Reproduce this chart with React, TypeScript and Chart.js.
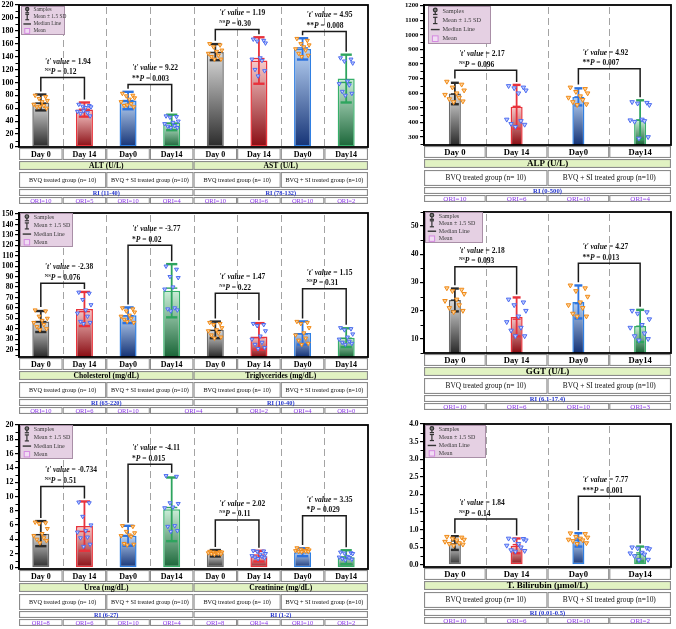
import React, { useEffect, useRef } from "react";
import { Chart, registerables } from "chart.js";

Chart.register(...registerables);

const SERIF = "'Liberation Serif', 'Times New Roman', Times, serif";

// ---------- shared labels ----------
const dayLabels = ["Day 0", "Day 14", "Day0", "Day14"];
const groupLabels = ["BVQ treated group (n= 10)", "BVQ + SI treated group (n=10)"];
const legendLabels = ["Samples", "Mean ± 1.5 SD", "Median Line", "Mean"];

// ---------- ALT (U/L) ----------
const altMean = [69, 58, 72, 38];
const altSd = [8.2, 7.3, 9, 8];
const altMedian = [68, 58.5, 72, 37];
const altSamples = [
  [80, 78, 75, 72, 70, 66, 64, 62, 60, 63],
  [66, 64, 63, 62, 61, 55, 53, 52, 48, 56],
  [83, 80, 79, 76, 74, 70, 67, 64, 62, 65],
  [48, 47, 46, 40, 38, 36, 33, 32, 30, 30],
];
const altT = ["1.94", "9.22"];
const altSig = ["NS", "**"];
const altP = ["0.12", "0.003"];
const altBracket = [107.5, 97];
const altOri = [10, 5, 10, 4];

// ---------- AST (U/L) ----------
const astMean = [147, 134, 152, 106];
const astSd = [8.3, 24, 11, 24.7];
const astMedian = [146.5, 137, 153.5, 100];
const astSamples = [
  [160, 158, 155, 150, 148, 145, 142, 140, 136, 136],
  [167, 165, 164, 161, 138, 136, 134, 120, 118, 110],
  [168, 165, 160, 158, 155, 152, 150, 145, 142, 140],
  [138, 136, 133, 130, 102, 98, 96, 86, 83, 80],
];
const astT = ["1.19", "4.95"];
const astSig = ["NS", "**"];
const astP = ["0.30", "0.008"];
const astBracket = [182, 179];
const astOri = [10, 6, 10, 2];

// ---------- ALP (U/L) ----------
const alpMean = [598, 507, 575, 418];
const alpSd = [49, 100, 39, 89];
const alpMedian = [595, 510, 575, 417.5];
const alpSamples = [
  [680, 660, 640, 620, 600, 590, 570, 560, 545, 540],
  [650, 640, 635, 620, 600, 420, 410, 390, 385, 370],
  [640, 630, 610, 600, 580, 570, 555, 540, 525, 520],
  [540, 535, 530, 520, 420, 415, 410, 405, 300, 290],
];
const alpT = ["2.17", "4.92"];
const alpSig = ["NS", "**"];
const alpP = ["0.096", "0.007"];
const alpBracket = [757, 768];
const alpOri = [10, 6, 10, 4];

// ---------- Cholesterol (mg/dL) ----------
const cholMean = [47, 59, 53, 76.5];
const cholSd = [6.7, 10.9, 5, 17];
const cholMedian = [47, 56.5, 52.5, 79];
const cholSamples = [
  [58, 57, 52, 50, 48, 46, 44, 42, 40, 39],
  [75, 74, 68, 63, 58, 55, 52, 47, 46, 45],
  [60, 59, 57, 56, 53, 52, 50, 49, 46, 47],
  [100, 97, 90, 89, 80, 78, 60, 59, 58, 57],
];
const cholT = ["-2.38", "-3.77"];
const cholSig = ["NS", "*"];
const cholP = ["0.076", "0.02"];
const cholBracket = [83.7, 120];
const cholOri = [10, 6, 10, 4];

// ---------- Triglycerides (mg/dL) ----------
const trigMean = [39, 32.7, 36, 31.5];
const trigSd = [5.3, 8.5, 7.4, 6];
const trigMedian = [38.5, 31.5, 35, 31];
const trigSamples = [
  [46, 45, 44, 41, 39, 38, 36, 34, 32, 31],
  [45, 44, 43, 38, 33, 30, 27, 25, 22, 21],
  [47, 46, 45, 41, 36, 34, 31, 29, 26, 25],
  [41, 40, 39, 35, 32, 30, 28, 27, 26, 25],
];
const trigT = ["1.47", "1.15"];
const trigSig = ["NS", "NS"];
const trigP = ["0.22", "0.31"];
const trigBracket = [74, 78.3];
const trigOri = [2, 4, 0];

// ---------- GGT (U/L) ----------
const ggtMean = [23.8, 17.8, 23.1, 14.6];
const ggtSd = [2.7, 4.6, 3.9, 3.8];
const ggtMedian = [23.75, 17, 22.5, 14.5];
const ggtSamples = [
  [28, 27.5, 27, 26, 24, 23.5, 22, 21, 20, 19.5],
  [24, 23, 22, 20, 18, 16, 14, 13, 11, 11],
  [29, 28, 27, 25, 23, 22, 21, 19, 18, 18],
  [20, 19.5, 19, 17, 15, 14, 12, 11, 10, 9.5],
];
const ggtT = ["2.18", "4.27"];
const ggtSig = ["NS", "**"];
const ggtP = ["0.093", "0.013"];
const ggtBracket = [35.6, 36.8];
const ggtOri = [10, 6, 10, 3];

// ---------- Urea (mg/dL) ----------
const ureaMean = [4.8, 5.85, 4.5, 8.2];
const ureaSd = [1.17, 2.3, 0.93, 2.97];
const ureaMedian = [4.65, 5.1, 4.55, 8.45];
const ureaSamples = [
  [6.4, 6.3, 6.2, 5.5, 4.8, 4.5, 4.2, 4.0, 3.8, 3.5],
  [9.2, 9.1, 7.2, 6.0, 5.2, 5.0, 4.3, 4.2, 3.3, 3.0],
  [5.9, 5.8, 5.1, 4.9, 4.6, 4.5, 4.4, 3.4, 3.3, 3.2],
  [12.9, 12.8, 9.1, 9.0, 8.5, 8.4, 5.9, 5.8, 5.2, 5.1],
];
const ureaT = ["-0.734", "-4.11"];
const ureaSig = ["NS", "*"];
const ureaP = ["0.51", "0.015"];
const ureaBracket = [11.4, 14.5];
const ureaOri = [8, 6, 10, 4];

// ---------- Creatinine (mg/dL) ----------
const creatMean = [2.05, 1.65, 2.2, 1.5];
const creatSd = [0.3, 0.5, 0.37, 0.65];
const creatMedian = [2.125, 1.8, 2.425, 1.55];
const creatSamples = [
  [2.3, 2.25, 2.2, 2.2, 2.15, 2.1, 2.05, 2.0, 1.95, 1.9],
  [2.4, 2.35, 2.3, 2.0, 1.9, 1.7, 1.6, 1.5, 1.4, 1.3],
  [2.8, 2.7, 2.6, 2.5, 2.45, 2.4, 2.35, 2.3, 2.3, 2.25],
  [2.2, 2.1, 2.05, 2.0, 1.6, 1.5, 1.4, 1.3, 1.2, 1.1],
];
const creatT = ["2.02", "3.35"];
const creatSig = ["NS", "*"];
const creatP = ["0.11", "0.029"];
const creatBracket = [6.7, 7.3];
const creatOri = [8, 4, 10, 2];

// ---------- T. Bilirubin (µmol/L) ----------
const biliMean = [0.62, 0.54, 0.71, 0.31];
const biliSd = [0.13, 0.14, 0.127, 0.14];
const biliMedian = [0.68, 0.575, 0.735, 0.34];
const biliSamples = [
  [0.8, 0.78, 0.75, 0.72, 0.7, 0.66, 0.62, 0.6, 0.58, 0.55],
  [0.75, 0.74, 0.72, 0.7, 0.6, 0.55, 0.5, 0.42, 0.4, 0.38],
  [0.9, 0.88, 0.8, 0.78, 0.75, 0.72, 0.7, 0.68, 0.62, 0.6],
  [0.5, 0.48, 0.47, 0.45, 0.35, 0.33, 0.3, 0.25, 0.15, 0.14],
];
const biliT = ["1.84", "7.77"];
const biliSig = ["NS", "***"];
const biliP = ["0.14", "0.001"];
const biliBracket = [1.3, 1.95];
const biliOri = [10, 6, 10, 2];

// ---------- y-axis tick labels ----------
const altAstTicks = [0, 20, 40, 60, 80, 100, 120, 140, 160, 180, 200, 220];
const alpTicks = [300, 400, 500, 600, 700, 800, 900, 1000, 1100, 1200];
const cholTrigTicks = [20, 30, 40, 50, 60, 70, 80, 90, 100, 110, 120, 130, 140, 150];
const ggtTicks = [10, 20, 30, 40, 50];
const ureaCreatTicks = [0, 2, 4, 6, 8, 10, 12, 14, 16, 18, 20];
const biliTicks = [0, 0.5, 1.0, 1.5, 2.0, 2.5, 3.0, 3.5, 4.0];

// ---------- styling ----------
const JITTER = [-0.13, 0.11, -0.04, 0.15, 0.03, -0.16, 0.07, -0.09, 0.13, -0.02];
const BAR_TOP = ["#dcdcdc", "#f8caca", "#b9d3f5", "#cbeed8"];
const BAR_BOTTOM = ["#2a2a2a", "#8a0c12", "#143275", "#196537"];
const BAR_EDGE = ["#6b6b6b", "#e8333b", "#2f7fe2", "#37b06a"];
const WHISKER = ["#2b2b2b", "#e8323c", "#2c72df", "#2ea45e"];
const TABLE_ROWS = { day: [1, 13], title: [14, 23], group: [25, 41], ri: [42, 49], ori: [50, 57] };
const FONT_NARROW = { day: 8, title: 7.6, group: 6.2, ri: 6.3, ori: 6.5 };
const FONT_WIDE = { day: 8.6, title: 9, group: 7.4, ri: 6.6, ori: 7 };

type Param = {
  title: string; ri: string;
  mean: number[]; sd: number[]; median: number[]; samples: number[][];
  t: string[]; sig: string[]; p: string[]; bracket: number[];
};

const mk = (title: string, ri: string, mean: number[], sd: number[], median: number[], samples: number[][], t: string[], sig: string[], p: string[], bracket: number[]): Param =>
  ({ title, ri, mean, sd, median, samples, t, sig, p, bracket });

const oriCells = (vals: number[], spans?: number[]) => vals.map((v, i) => ({ text: `ORI=${v}`, span: spans ? spans[i] : 1 }));

const panels = [
  {
    key: "alt-ast",
    params: [
      mk("ALT (U/L)", "RI (11-40)", altMean, altSd, altMedian, altSamples, altT, altSig, altP, altBracket),
      mk("AST (U/L)", "RI (78-132)", astMean, astSd, astMedian, astSamples, astT, astSig, astP, astBracket),
    ],
    ori: [...oriCells(altOri), ...oriCells(astOri)],
    x: 0, y: 0, w: 373, h: 206, axisW: 19, padTop: 3, padBottom: 59, padRight: 3,
    yMin: 0, yMax: 220, yTicks: altAstTicks, yMinor: 10, yDec: 0, tickFont: 8,
    legend: { dx: 2, dy: 1, w: 44, h: 29, fs: 5.4 }, wide: false, pointR: 2.3,
  },
  {
    key: "alp",
    params: [mk("ALP (U/L)", "RI (0-500)", alpMean, alpSd, alpMedian, alpSamples, alpT, alpSig, alpP, alpBracket)],
    ori: oriCells(alpOri),
    x: 398, y: 0, w: 278, h: 206, axisW: 26, padTop: 4, padBottom: 61, padRight: 5,
    yMin: 245, yMax: 1205, yTicks: alpTicks, yMinor: 50, yDec: 0, tickFont: 6.8,
    legend: { dx: 4, dy: 1, w: 63, h: 38, fs: 6.3 }, wide: true, pointR: 2.6,
  },
  {
    key: "chol-trig",
    params: [
      mk("Cholesterol (mg/dL)", "RI (65-220)", cholMean, cholSd, cholMedian, cholSamples, cholT, cholSig, cholP, cholBracket),
      mk("Triglycerides (mg/dL)", "RI (10-40)", trigMean, trigSd, trigMedian, trigSamples, trigT, trigSig, trigP, trigBracket),
    ],
    ori: [...oriCells(cholOri, [1, 1, 1, 2]), ...oriCells(trigOri)],
    x: 0, y: 207, w: 373, h: 209, axisW: 19, padTop: 6, padBottom: 59, padRight: 3,
    yMin: 13, yMax: 151, yTicks: cholTrigTicks, yMinor: 5, yDec: 0, tickFont: 7.8,
    legend: { dx: 1, dy: 0, w: 53, h: 34, fs: 6 }, wide: false, pointR: 2.3,
  },
  {
    key: "ggt",
    params: [mk("GGT (U/L)", "RI (6.1-17.4)", ggtMean, ggtSd, ggtMedian, ggtSamples, ggtT, ggtSig, ggtP, ggtBracket)],
    ori: oriCells(ggtOri),
    x: 398, y: 207, w: 278, h: 209, axisW: 26, padTop: 5, padBottom: 63, padRight: 5,
    yMin: 5, yMax: 55, yTicks: ggtTicks, yMinor: 5, yDec: 0, tickFont: 7.5,
    legend: { dx: 1, dy: 0, w: 58, h: 31, fs: 6 }, wide: true, pointR: 2.6,
  },
  {
    key: "urea-creat",
    params: [
      mk("Urea (mg/dL)", "RI (6-27)", ureaMean, ureaSd, ureaMedian, ureaSamples, ureaT, ureaSig, ureaP, ureaBracket),
      mk("Creatinine (mg/dL)", "RI (1-2)", creatMean, creatSd, creatMedian, creatSamples, creatT, creatSig, creatP, creatBracket),
    ],
    ori: [...oriCells(ureaOri), ...oriCells(creatOri)],
    x: 0, y: 417, w: 373, h: 212, axisW: 19, padTop: 8, padBottom: 60, padRight: 3,
    yMin: -0.15, yMax: 20, yTicks: ureaCreatTicks, yMinor: 1, yDec: 0, tickFont: 8,
    legend: { dx: 1, dy: 0, w: 53, h: 34, fs: 6 }, wide: false, pointR: 2.3,
  },
  {
    key: "bili",
    params: [mk("T. Bilirubin (µmol/L)", "RI (0.01-0.5)", biliMean, biliSd, biliMedian, biliSamples, biliT, biliSig, biliP, biliBracket)],
    ori: oriCells(biliOri),
    x: 398, y: 417, w: 278, h: 212, axisW: 26, padTop: 7, padBottom: 62, padRight: 5,
    yMin: -0.06, yMax: 4.0, yTicks: biliTicks, yMinor: 0.25, yDec: 1, tickFont: 7.5,
    legend: { dx: 1, dy: 1, w: 61, h: 33, fs: 6 }, wide: true, pointR: 2.6,
  },
];

type Panel = (typeof panels)[number];

function line(ctx: CanvasRenderingContext2D, x1: number, y1: number, x2: number, y2: number) {
  ctx.beginPath();
  ctx.moveTo(x1, y1);
  ctx.lineTo(x2, y2);
  ctx.stroke();
}

function textRuns(ctx: CanvasRenderingContext2D, x: number, y: number, parts: [string, string, number][]) {
  let cx = x;
  for (const [txt, f, dy] of parts) {
    ctx.font = f;
    ctx.fillText(txt, cx, y + dy);
    cx += ctx.measureText(txt).width;
  }
}

function cell(ctx: CanvasRenderingContext2D, x0: number, x1: number, y0: number, y1: number, fill: string, text: string, font: string, color: string) {
  ctx.fillStyle = fill;
  ctx.fillRect(x0, y0, x1 - x0, y1 - y0);
  ctx.strokeStyle = "#8b8b8b";
  ctx.lineWidth = 1.1;
  ctx.strokeRect(x0 + 0.55, y0 + 0.55, x1 - x0 - 1.1, y1 - y0 - 1.1);
  ctx.fillStyle = color;
  ctx.font = font;
  ctx.textAlign = "center";
  ctx.textBaseline = "middle";
  ctx.fillText(text, (x0 + x1) / 2, (y0 + y1) / 2 + 0.5);
}

function decorPlugin(panel: Panel) {
  const means = panel.params.flatMap((p) => p.mean);
  const sds = panel.params.flatMap((p) => p.sd);
  const medians = panel.params.flatMap((p) => p.median);
  const samples = panel.params.flatMap((p) => p.samples);
  const n = means.length;
  const legTop = (i: number) => Math.max(means[i] + 1.5 * sds[i], Math.max(...samples[i]));

  return {
    id: "panelDecor",
    beforeDatasetsDraw(chart: any) {
      // dashed separators between the day columns
      const { ctx, chartArea: a, scales } = chart;
      ctx.save();
      ctx.strokeStyle = "#a3a3a3";
      ctx.lineWidth = 1;
      ctx.setLineDash([7, 4]);
      for (let i = 1; i < n; i++) {
        const x = Math.round(scales.x.getPixelForValue(i - 0.5)) + 0.5;
        line(ctx, x, a.top + 2, x, a.bottom);
      }
      ctx.restore();
    },
    beforeDatasetDraw(chart: any, args: any) {
      if (args.index !== 0) return;
      const { ctx, scales } = chart;
      const ys = scales.y;
      const xs = scales.x;
      const bars = chart.getDatasetMeta(1).data;
      ctx.save();
      // mean ± 1.5 SD whiskers and median lines
      bars.forEach((bar: any, i: number) => {
        const hw = bar.width * 0.33;
        const top = ys.getPixelForValue(means[i] + 1.5 * sds[i]);
        const bot = ys.getPixelForValue(means[i] - 1.5 * sds[i]);
        const med = ys.getPixelForValue(medians[i]);
        ctx.strokeStyle = WHISKER[i % 4];
        ctx.lineWidth = 1.8;
        line(ctx, bar.x, top, bar.x, bot);
        ctx.lineWidth = 2.4;
        line(ctx, bar.x - hw, top, bar.x + hw, top);
        line(ctx, bar.x - hw, bot, bar.x + hw, bot);
        ctx.lineWidth = 1.4;
        line(ctx, bar.x - hw, med, bar.x + hw, med);
      });
      // comparison brackets
      ctx.strokeStyle = "#1b1b1b";
      ctx.lineWidth = 1.5;
      panel.params.forEach((p, k) => {
        [0, 1].forEach((j) => {
          const a = k * 4 + 2 * j;
          const b = a + 1;
          const xa = xs.getPixelForValue(a);
          const xb = xs.getPixelForValue(b);
          const yb = ys.getPixelForValue(p.bracket[j]);
          ctx.beginPath();
          ctx.moveTo(xa, ys.getPixelForValue(legTop(a)) - 3);
          ctx.lineTo(xa, yb);
          ctx.lineTo(xb, yb);
          ctx.lineTo(xb, ys.getPixelForValue(legTop(b)) - 3);
          ctx.stroke();
        });
      });
      ctx.restore();
    },
    afterDraw(chart: any) {
      const { ctx, chartArea: area, scales } = chart;
      const xs = scales.x;
      const ys = scales.y;
      ctx.save();

      // plot frame
      ctx.strokeStyle = "#000";
      ctx.lineWidth = 1.8;
      ctx.strokeRect(area.left, area.top, area.right - area.left, area.bottom - area.top);

      // minor ticks
      ctx.lineWidth = 1;
      const start = Math.ceil(panel.yMin / panel.yMinor - 1e-9);
      for (let k = start; k * panel.yMinor <= panel.yMax + 1e-9; k++) {
        const v = k * panel.yMinor;
        if (panel.yTicks.some((t) => Math.abs(t - v) < 1e-9)) continue;
        const py = Math.round(ys.getPixelForValue(v)) + 0.5;
        line(ctx, area.left - 3.5, py, area.left - 1, py);
      }

      // legend box
      const lg = panel.legend;
      const lx = area.left + lg.dx;
      const ly = area.top + lg.dy;
      ctx.fillStyle = "#e5d0e3";
      ctx.fillRect(lx, ly, lg.w, lg.h);
      ctx.strokeStyle = "#a98fa7";
      ctx.lineWidth = 1;
      ctx.strokeRect(lx + 0.5, ly + 0.5, lg.w - 1, lg.h - 1);
      const fs = lg.fs;
      const ix = lx + fs * 1.15;
      const tx = lx + fs * 2.3;
      legendLabels.forEach((lab, k) => {
        const ry = ly + lg.h * (0.14 + 0.24 * k);
        ctx.fillStyle = "#3a3a3a";
        ctx.font = `${fs}px ${SERIF}`;
        ctx.textAlign = "left";
        ctx.textBaseline = "middle";
        ctx.fillText(lab, tx, ry);
        ctx.strokeStyle = "#333";
        ctx.lineWidth = 1.2;
        if (k === 0) {
          line(ctx, ix, ry, ix, ry + fs * 0.5);
          line(ctx, ix - fs * 0.35, ry + fs * 0.5, ix + fs * 0.35, ry + fs * 0.5);
          ctx.beginPath();
          ctx.arc(ix, ry - fs * 0.2, fs * 0.3, 0, Math.PI * 2);
          ctx.fillStyle = "#7c7c7c";
          ctx.fill();
          ctx.stroke();
        } else if (k === 1) {
          line(ctx, ix, ry - fs * 0.5, ix, ry + fs * 0.5);
          line(ctx, ix - fs * 0.35, ry - fs * 0.5, ix + fs * 0.35, ry - fs * 0.5);
          line(ctx, ix - fs * 0.35, ry + fs * 0.5, ix + fs * 0.35, ry + fs * 0.5);
        } else if (k === 2) {
          ctx.lineWidth = 1.4;
          line(ctx, ix - fs * 0.7, ry, ix + fs * 0.7, ry);
        } else {
          const s = fs * 0.9;
          ctx.fillStyle = "#f1dcf3";
          ctx.fillRect(ix - s / 2, ry - s / 2, s, s);
          ctx.strokeStyle = "#d489e0";
          ctx.lineWidth = 1;
          ctx.strokeRect(ix - s / 2, ry - s / 2, s, s);
        }
      });

      // t value / P value notes above each bracket
      const nf = 7.5;
      ctx.fillStyle = "#111";
      ctx.textAlign = "left";
      ctx.textBaseline = "middle";
      panel.params.forEach((p, k) => {
        [0, 1].forEach((j) => {
          const a = k * 4 + 2 * j;
          const x = xs.getPixelForValue(a) + 4;
          const yb = ys.getPixelForValue(p.bracket[j]);
          textRuns(ctx, x, yb - 16, [
            ["'t' value", `italic bold ${nf}px ${SERIF}`, 0],
            [` = ${p.t[j]}`, `bold ${nf}px ${SERIF}`, 0],
          ]);
          const second: [string, string, number][] =
            p.sig[j] === "NS"
              ? [["NS", `bold ${nf * 0.62}px ${SERIF}`, -2.3]]
              : [[p.sig[j], `bold ${nf}px ${SERIF}`, 0]];
          second.push(["P", `italic bold ${nf}px ${SERIF}`, 0]);
          second.push([` = ${p.p[j]}`, `bold ${nf}px ${SERIF}`, 0]);
          textRuns(ctx, x, yb - 5.5, second);
        });
      });

      // table under the plot
      const B = area.bottom;
      const ex = (i: number) => xs.getPixelForValue(i - 0.5);
      const F = panel.wide ? FONT_WIDE : FONT_NARROW;
      const R = TABLE_ROWS;
      for (let i = 0; i < n; i++) {
        cell(ctx, ex(i), ex(i + 1), B + R.day[0], B + R.day[1], "#fff", dayLabels[i % 4], `bold ${F.day}px ${SERIF}`, "#000");
      }
      panel.params.forEach((p, k) => {
        const c0 = k * 4;
        cell(ctx, ex(c0), ex(c0 + 4), B + R.title[0], B + R.title[1], "#e1f2c2", p.title, `bold ${F.title}px ${SERIF}`, "#000");
        cell(ctx, ex(c0), ex(c0 + 2), B + R.group[0], B + R.group[1], "#fff", groupLabels[0], `${F.group}px ${SERIF}`, "#111");
        cell(ctx, ex(c0 + 2), ex(c0 + 4), B + R.group[0], B + R.group[1], "#fff", groupLabels[1], `${F.group}px ${SERIF}`, "#111");
        cell(ctx, ex(c0), ex(c0 + 4), B + R.ri[0], B + R.ri[1], "#fff", p.ri, `bold ${F.ri}px ${SERIF}`, "#2233cc");
      });
      let col = 0;
      panel.ori.forEach((c) => {
        cell(ctx, ex(col), ex(col + c.span), B + R.ori[0], B + R.ori[1], "#fff", c.text, `${F.ori}px ${SERIF}`, "#8a35e8");
        col += c.span;
      });
      ctx.restore();
    },
  };
}

function buildConfig(panel: Panel): any {
  const means = panel.params.flatMap((p) => p.mean);
  const samples = panel.params.flatMap((p) => p.samples);
  const n = means.length;
  const barData = means.map((m, i) => ({ x: i, y: m }));
  const pts: { x: number; y: number; g: number }[] = [];
  samples.forEach((arr, g) => arr.forEach((v, j) => pts.push({ x: g + JITTER[j], y: v, g })));

  return {
    type: "bar",
    data: {
      datasets: [
        {
          type: "scatter",
          data: pts,
          order: 0,
          pointStyle: "triangle",
          pointRotation: 180,
          pointRadius: panel.pointR,
          pointBorderWidth: 1,
          pointBackgroundColor: (c: any) => (c.raw && c.raw.g % 2 === 0 ? "#fdd39c" : "#c4d1ff"),
          pointBorderColor: (c: any) => (c.raw && c.raw.g % 2 === 0 ? "#f08a18" : "#4d6cf0"),
        },
        {
          type: "bar",
          data: barData,
          order: 1,
          barPercentage: 0.39,
          categoryPercentage: 1,
          borderWidth: 1.5,
          borderSkipped: false,
          borderColor: (c: any) => BAR_EDGE[c.dataIndex % 4],
          backgroundColor: (c: any) => {
            const k = c.dataIndex % 4;
            const chart = c.chart;
            if (!chart.chartArea || !c.raw) return BAR_TOP[k];
            const ys = chart.scales.y;
            const top = ys.getPixelForValue(c.raw.y);
            const base = ys.getBasePixel();
            const g = chart.ctx.createLinearGradient(0, top, 0, base);
            g.addColorStop(0, BAR_TOP[k]);
            g.addColorStop(1, BAR_BOTTOM[k]);
            return g;
          },
        },
      ],
    },
    options: {
      responsive: false,
      animation: false,
      events: [],
      layout: { padding: { left: 0, top: panel.padTop, right: panel.padRight, bottom: panel.padBottom } },
      plugins: { legend: { display: false }, tooltip: { enabled: false } },
      scales: {
        x: { type: "linear", min: -0.5, max: n - 0.5, offset: false, display: false, grid: { offset: false } },
        y: {
          type: "linear",
          min: panel.yMin,
          max: panel.yMax,
          afterBuildTicks: (s: any) => {
            s.ticks = panel.yTicks.map((v) => ({ value: v }));
          },
          afterFit: (s: any) => {
            s.width = panel.axisW;
            s.paddingTop = 0;
            s.paddingBottom = 0;
          },
          ticks: {
            autoSkip: false,
            padding: 1.5,
            color: "#000",
            font: { family: SERIF, size: panel.tickFont, weight: "bold" },
            callback: (v: any) => Number(v).toFixed(panel.yDec),
          },
          grid: { drawOnChartArea: false, drawTicks: true, tickLength: 4, color: "#000", lineWidth: 1.2 },
          border: { display: true, color: "#000", width: 2 },
        },
      },
    },
    plugins: [decorPlugin(panel)],
  };
}

function PanelChart({ panel }: { panel: Panel }) {
  const ref = useRef<HTMLCanvasElement | null>(null);
  useEffect(() => {
    if (!ref.current) return;
    const chart = new Chart(ref.current, buildConfig(panel));
    return () => chart.destroy();
  }, [panel]);
  return (
    <canvas
      ref={ref}
      width={panel.w}
      height={panel.h}
      style={{ position: "absolute", left: panel.x, top: panel.y, width: panel.w, height: panel.h }}
    />
  );
}

export default function App() {
  return (
    <div style={{ position: "absolute", left: 0, top: 0, width: 676, height: 629, background: "#fff", overflow: "hidden" }}>
      {panels.map((p) => (
        <PanelChart key={p.key} panel={p} />
      ))}
    </div>
  );
}
